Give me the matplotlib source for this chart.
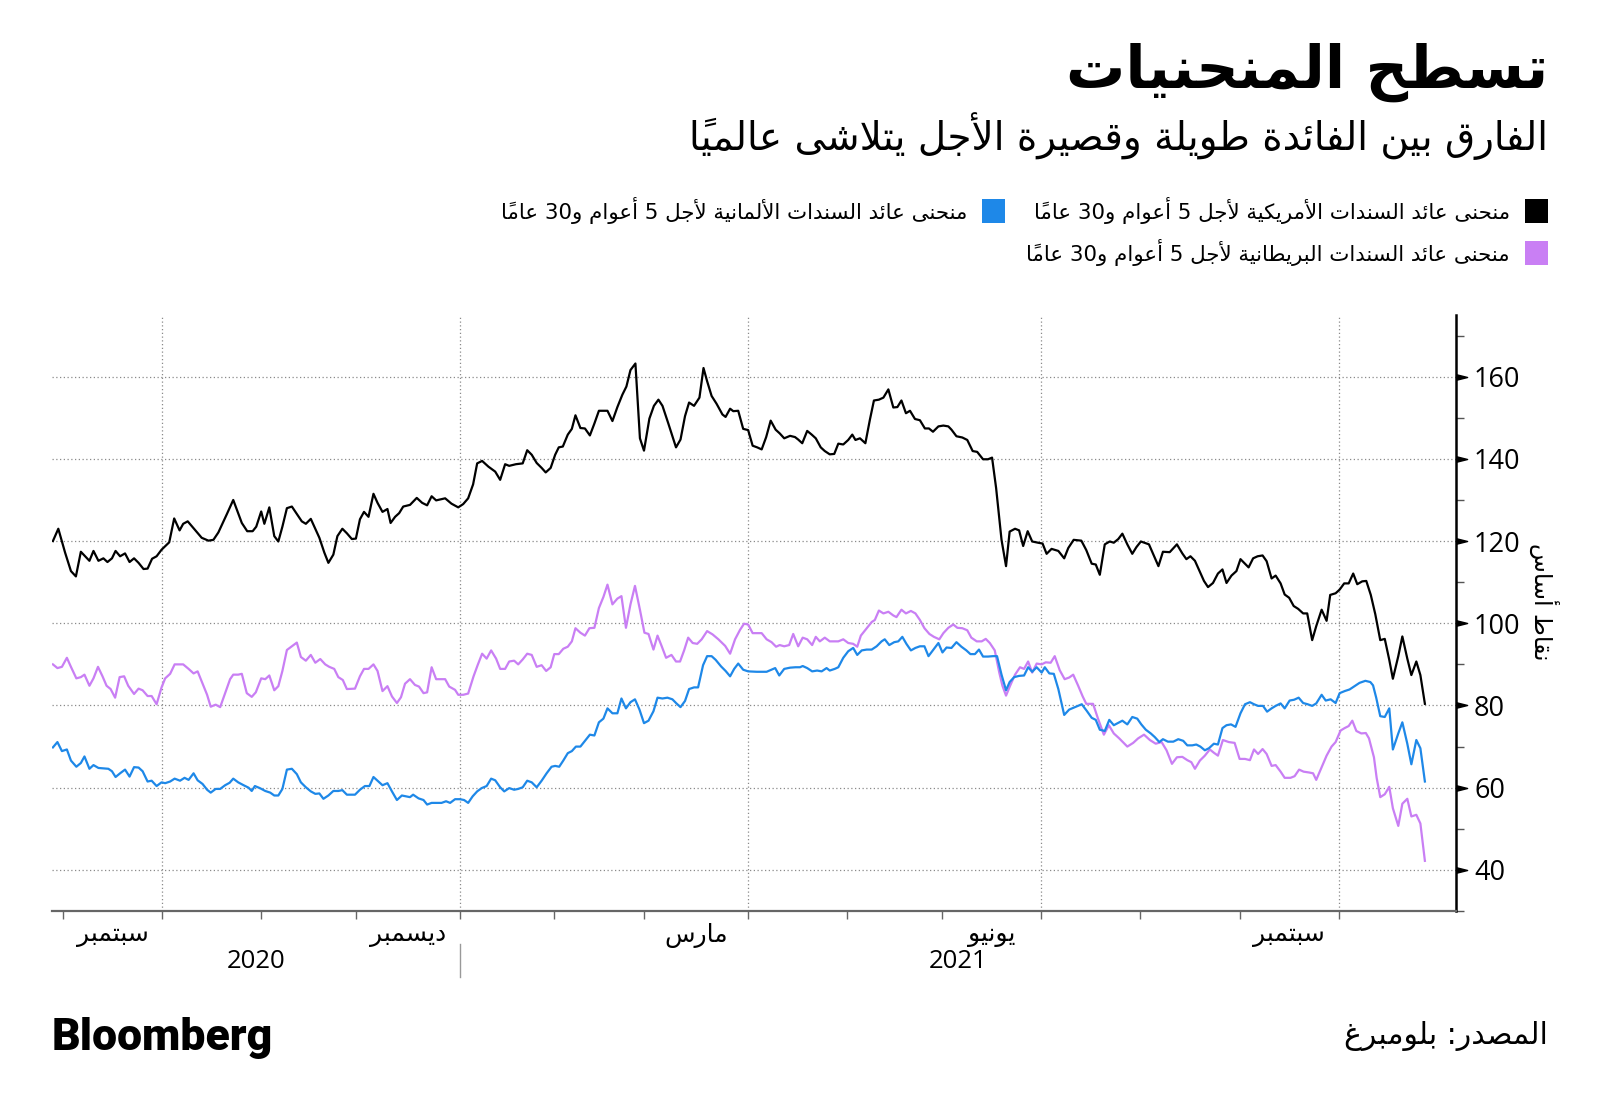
import unicodedata
import numpy as np
import matplotlib
matplotlib.use("Agg")
import matplotlib.pyplot as plt
from matplotlib.patches import Rectangle
from matplotlib.transforms import blended_transform_factory

# ---------------- data (x = trading-day index, 0 = 2020-09-01) ----------------
BASE_DATE = "2020-09-01"

us_x = [-2.2, -1.0, 0.5, 1.8, 2.9, 4.0, 5.9, 6.8, 7.9, 9.0, 9.9, 10.9, 11.7, 12.7, 13.8, 14.8, 15.8, 16.8, 17.9, 18.8,
        19.8, 20.8, 21.9, 23.6, 24.7, 25.9, 26.7, 27.7, 29.1, 30.8, 32.3, 33.4, 34.5, 36.4, 37.8, 39.7, 40.9, 42.1, 42.9,
        44.0, 44.7, 45.8, 46.9, 47.8, 48.7, 49.7, 50.8, 53.0, 53.9, 55.0, 56.0, 56.9, 58.0, 58.9, 60.0, 60.9, 62.0, 63.0,
        64.1, 65.0, 65.9, 66.8, 67.8, 68.9, 69.8, 70.9, 72.0, 72.7, 73.7, 74.6, 75.5, 77.0, 78.5, 79.7, 80.8, 81.8, 82.8,
        84.8, 86.2, 87.7, 88.8, 89.9, 91.0, 91.9, 93.0, 94.4, 95.9, 97.0, 98.1, 99.0, 100.5, 102.0, 103.0, 104.0, 105.1,
        106.2, 107.1, 108.2, 109.2, 110.0, 110.9, 112.0, 112.9, 113.7, 114.8, 115.8, 116.9, 117.9, 118.9, 120.8, 121.9,
        123.0, 124.1, 125.0, 125.9, 127.0, 128.0, 128.9, 130.1, 131.1, 132.1, 133.0, 134.3, 136.0, 137.0, 138.0, 138.9,
        140.0, 141.2, 142.1, 142.9, 143.9, 145.0, 146.3, 147.0, 148.0, 148.7, 149.8, 150.9, 152.0, 153.0, 154.0, 155.0,
        156.0, 157.0, 158.1, 159.0, 160.0, 161.3, 162.4, 163.1, 164.0, 165.1, 166.1, 167.0, 168.1, 169.0, 170.1, 171.1,
        172.0, 173.1, 174.2, 175.1, 175.8, 176.8, 178.0, 179.0, 179.9, 181.0, 182.0, 183.1, 184.2, 185.1, 186.0, 187.0,
        187.9, 189.0, 190.1, 191.2, 192.1, 193.0, 194.2, 195.3, 196.4, 197.1, 198.2, 199.5, 200.6, 201.8, 202.8, 204.1,
        205.2, 206.1, 207.0, 208.2, 209.2, 210.0, 211.2, 212.1, 213.0, 214.0, 215.0, 216.3, 217.3, 218.2, 219.3, 220.8,
        222.1, 223.0, 224.2, 225.9, 227.0, 228.2, 229.1, 230.0, 231.1, 232.2, 233.1, 234.1, 235.0, 236.1, 237.2, 238.1,
        239.1, 240.9, 241.8, 243.0, 244.0, 245.5, 247.1, 248.3, 249.2, 250.1, 251.1, 252.0, 253.1, 254.0, 255.1, 256.2,
        257.2, 258.1, 259.2, 260.3, 261.2, 262.2, 263.0, 264.0, 265.0, 266.1, 267.0, 268.1, 269.0, 270.1, 271.0, 272.0,
        273.0, 274.0, 275.1, 276.0, 277.1, 278.0, 279.2, 280.3, 281.1, 282.3, 283.2, 284.2, 285.2, 286.2, 287.1, 288.2,
        289.1, 290.1, 291.1, 292.2, 293.2, 294.2, 295.0, 296.2, 297.1, 298.2, 299.1, 300.2, 301.1, 302.1]
us_y = [120.0, 123.0, 117.2, 112.7, 111.4, 117.4, 115.2, 117.6, 115.2, 115.8, 114.9, 115.8, 117.6, 116.3, 117.0, 114.9,
        115.8, 114.7, 113.2, 113.3, 115.7, 116.3, 117.9, 119.7, 125.5, 122.6, 124.2, 124.8, 123.0, 120.8, 120.1, 120.3,
        122.1, 126.6, 130.0, 124.4, 122.4, 122.4, 123.5, 127.2, 124.2, 128.2, 121.2, 119.9, 123.5, 128.0, 128.4, 124.8,
        124.2, 125.4, 123.0, 120.8, 117.2, 114.7, 116.7, 121.2, 123.0, 121.9, 120.5, 120.6, 125.3, 127.1, 125.9, 131.5,
        129.3, 127.1, 127.8, 124.4, 125.9, 126.8, 128.4, 128.8, 130.5, 129.3, 128.7, 130.9, 129.9, 130.4, 129.1, 128.2,
        129.0, 130.4, 133.8, 138.9, 139.5, 138.1, 136.9, 134.9, 138.7, 138.3, 138.7, 138.9, 142.1, 141.0, 139.0, 137.8,
        136.7, 137.8, 141.0, 142.8, 143.0, 145.9, 147.3, 150.6, 147.5, 147.4, 145.7, 148.6, 151.7, 151.7, 149.2, 152.6,
        155.6, 157.6, 161.6, 163.2, 145.0, 142.0, 149.8, 152.9, 154.4, 152.9, 148.6, 142.8, 144.7, 150.4, 153.7, 152.9,
        154.9, 162.1, 158.9, 155.3, 153.4, 150.8, 150.2, 152.2, 151.6, 151.7, 147.3, 147.0, 143.2, 142.8, 142.3, 145.3,
        149.3, 147.1, 146.2, 145.0, 145.6, 145.3, 144.7, 143.8, 146.8, 145.9, 145.0, 142.8, 141.9, 141.1, 141.2, 143.7,
        143.5, 144.6, 145.9, 144.6, 145.0, 143.8, 149.5, 154.2, 154.4, 154.9, 156.9, 152.5, 152.6, 154.2, 151.1, 151.7,
        149.7, 149.4, 147.4, 147.4, 146.6, 147.9, 148.1, 147.9, 147.1, 145.5, 145.2, 144.6, 141.9, 141.7, 139.9, 139.9,
        140.3, 132.9, 120.3, 113.9, 122.3, 123.0, 122.6, 118.8, 122.4, 119.9, 119.6, 119.4, 116.9, 118.1, 117.6, 115.8,
        118.3, 120.3, 120.1, 117.8, 114.5, 114.3, 111.8, 119.2, 119.9, 119.6, 120.5, 121.8, 119.2, 116.9, 118.5, 119.9,
        119.2, 116.9, 113.9, 117.4, 117.3, 119.2, 117.0, 115.6, 116.3, 115.2, 113.0, 110.3, 108.8, 109.8, 112.1, 113.1,
        109.8, 111.6, 112.7, 115.6, 114.5, 113.6, 115.8, 116.3, 116.5, 115.1, 110.9, 111.6, 109.7, 107.0, 106.2, 104.2,
        103.5, 102.4, 102.4, 95.9, 99.3, 103.3, 100.6, 106.9, 107.3, 108.2, 109.7, 109.7, 112.1, 109.5, 110.2, 110.3,
        106.9, 102.2, 95.9, 96.2, 91.1, 86.5, 92.0, 96.8, 91.4, 87.4, 90.7, 87.4, 80.4]

de_x = [-2.2, -1.2, -0.2, 0.9, 1.8, 3.0, 4.0, 4.8, 5.9, 6.8, 7.9, 10.1, 10.9, 11.7, 12.7, 13.8, 14.8, 15.8, 16.8, 17.7,
        18.8, 19.7, 20.8, 21.9, 22.7, 23.8, 24.8, 26.0, 27.0, 27.9, 29.0, 29.9, 31.0, 32.0, 32.8, 33.9, 34.9, 36.0, 37.0,
        37.8, 38.9, 40.1, 41.2, 41.9, 42.6, 43.7, 44.9, 46.0, 46.9, 47.8, 48.7, 49.7, 50.8, 51.9, 52.8, 53.9, 55.0, 56.0,
        56.9, 57.8, 58.9, 60.0, 61.1, 62.0, 63.0, 64.8, 65.9, 67.0, 68.0, 68.9, 70.0, 70.9, 72.0, 73.0, 74.1, 75.2, 77.0,
        77.7, 78.9, 80.0, 80.8, 81.8, 82.9, 84.0, 85.0, 85.9, 87.0, 88.1, 89.0, 89.9, 90.9, 91.9, 92.9, 94.0, 95.0, 95.9,
        97.0, 97.9, 99.0, 100.1, 101.0, 102.0, 103.0, 104.0, 105.1, 106.2, 107.3, 108.4, 109.2, 110.1, 111.0, 112.0,
        112.9, 113.8, 114.8, 115.8, 116.9, 117.9, 118.9, 119.9, 120.8, 121.9, 123.0, 123.9, 124.9, 125.9, 126.9, 127.9,
        128.9, 129.9, 131.0, 131.9, 133.0, 134.1, 135.2, 136.1, 137.0, 138.0, 138.9, 140.0, 140.9, 142.0, 142.9, 143.9,
        144.8, 146.0, 147.0, 148.0, 148.9, 149.8, 150.9, 152.0, 153.9, 156.1, 158.0, 158.9, 160.0, 161.3, 162.5, 163.5,
        164.1, 165.1, 166.2, 167.3, 168.3, 169.4, 170.1, 171.2, 172.0, 173.1, 174.2, 175.3, 176.2, 177.2, 178.3, 179.4,
        180.5, 181.6, 182.3, 183.3, 184.4, 185.3, 186.2, 187.1, 188.1, 189.1, 190.1, 191.1, 192.0, 193.1, 194.2, 195.1,
        196.0, 197.1, 198.2, 199.3, 200.4, 201.3, 202.3, 203.2, 204.1, 205.2, 206.3, 207.2, 208.2, 209.2, 210.0, 211.0,
        212.1, 213.2, 214.1, 215.0, 216.0, 217.1, 217.8, 218.8, 219.8, 220.8, 222.1, 223.2, 224.5, 226.0, 227.1, 228.2,
        229.1, 230.0, 231.1, 232.1, 233.1, 234.3, 235.0, 236.1, 237.2, 238.3, 239.2, 240.2, 241.3, 242.2, 243.2, 244.0,
        245.1, 246.3, 247.4, 248.5, 249.4, 250.5, 251.4, 252.3, 253.3, 254.2, 255.3, 256.2, 257.2, 258.1, 259.1, 260.1,
        261.2, 262.2, 263.3, 264.2, 265.1, 266.2, 267.1, 268.1, 269.0, 270.1, 271.0, 272.1, 273.1, 274.1, 275.1, 276.1,
        277.1, 278.0, 279.2, 280.1, 281.2, 282.3, 283.2, 284.3, 285.4, 286.5, 287.6, 288.9, 290.0, 290.6, 291.3, 292.2,
        293.2, 294.2, 295.0, 296.2, 297.1, 298.2, 299.1, 300.2, 301.1, 302.1]
de_y = [69.8, 71.1, 68.9, 69.3, 66.6, 65.1, 66.0, 67.6, 64.6, 65.5, 64.8, 64.6, 64.0, 62.6, 63.5, 64.4, 62.7, 65.0, 64.9,
        64.0, 61.5, 61.7, 60.4, 61.3, 61.1, 61.5, 62.2, 61.7, 62.4, 61.9, 63.5, 61.8, 60.9, 59.5, 58.8, 59.7, 59.7, 60.6,
        61.2, 62.2, 61.3, 60.6, 60.0, 59.2, 60.4, 59.9, 59.2, 58.8, 58.1, 58.1, 59.7, 64.4, 64.6, 63.3, 61.3, 60.1, 59.1,
        58.5, 58.6, 57.3, 58.1, 59.2, 59.2, 59.4, 58.3, 58.3, 59.5, 60.4, 60.4, 62.6, 61.5, 60.6, 61.1, 59.1, 57.0, 58.1,
        57.7, 58.3, 57.4, 57.0, 55.9, 56.3, 56.3, 56.3, 56.7, 56.3, 57.2, 57.2, 57.0, 56.3, 57.9, 59.1, 59.9, 60.4, 62.2,
        61.8, 60.1, 59.1, 59.9, 59.5, 59.7, 60.1, 61.7, 61.3, 60.1, 61.7, 63.5, 65.1, 65.3, 65.1, 66.6, 68.4, 68.9, 70.0,
        70.0, 71.4, 72.9, 72.7, 75.9, 76.8, 79.3, 78.1, 78.1, 81.7, 79.3, 80.8, 81.5, 79.0, 75.7, 76.3, 78.6, 81.9, 81.7,
        81.9, 81.5, 80.5, 79.6, 81.1, 84.0, 84.4, 84.4, 89.8, 92.0, 92.0, 91.1, 89.5, 88.4, 87.1, 88.9, 90.2, 88.7, 88.3,
        88.2, 88.2, 89.1, 87.3, 88.9, 89.2, 89.3, 89.3, 89.6, 89.1, 88.3, 88.5, 88.3, 89.1, 88.5, 88.9, 89.3, 91.6, 93.2,
        94.0, 92.3, 93.4, 93.6, 93.6, 94.4, 95.6, 96.1, 94.7, 95.4, 95.6, 96.7, 95.0, 93.4, 94.0, 94.4, 94.4, 92.0, 93.6,
        95.2, 92.9, 94.1, 94.0, 95.4, 94.3, 93.4, 92.5, 92.5, 93.6, 91.9, 91.9, 92.0, 92.0, 87.5, 83.7, 85.7, 86.9, 87.2,
        87.3, 89.3, 88.2, 89.3, 88.0, 89.3, 87.8, 87.7, 84.0, 77.7, 79.0, 79.6, 80.3, 78.7, 77.0, 76.5, 74.1, 73.8, 76.5,
        75.2, 75.9, 76.3, 75.4, 77.2, 76.8, 75.4, 74.1, 73.2, 72.3, 71.1, 71.8, 71.2, 71.2, 71.8, 71.4, 70.3, 70.3, 70.5,
        70.0, 69.1, 69.6, 70.7, 70.5, 74.5, 75.2, 75.4, 74.8, 78.1, 80.3, 80.8, 80.3, 79.9, 79.9, 78.5, 79.3, 79.9, 80.5,
        79.3, 81.2, 81.4, 81.9, 80.6, 80.3, 79.9, 80.5, 82.6, 81.2, 81.5, 80.6, 83.0, 83.5, 83.9, 84.7, 85.5, 86.0, 85.7,
        84.9, 81.9, 77.4, 77.2, 79.3, 69.3, 73.2, 75.9, 70.7, 65.7, 71.6, 69.6, 61.5]

uk_x = [-2.2, -1.2, -0.2, 0.9, 1.8, 3.0, 4.0, 4.8, 5.9, 6.8, 7.8, 8.8, 9.7, 10.6, 11.6, 12.6, 13.6, 14.5, 15.8, 16.8, 17.7,
        18.8, 19.7, 20.8, 21.9, 22.7, 23.8, 24.8, 25.6, 26.7, 27.9, 29.0, 29.9, 31.0, 32.0, 32.8, 33.9, 34.9, 36.0, 37.1,
        37.8, 38.9, 39.7, 40.8, 41.9, 42.8, 44.0, 44.9, 45.8, 46.9, 47.8, 48.7, 49.7, 50.8, 51.9, 52.8, 53.9, 55.0, 56.0,
        57.1, 58.2, 59.1, 60.2, 61.1, 62.1, 63.0, 64.8, 65.9, 66.8, 67.8, 68.9, 69.8, 70.9, 72.0, 73.0, 74.1, 75.0, 75.9,
        77.0, 78.1, 79.0, 80.0, 80.8, 81.8, 82.8, 84.8, 85.7, 87.0, 87.7, 88.8, 89.9, 91.1, 92.0, 93.0, 94.0, 95.0, 96.1,
        97.0, 98.1, 99.0, 100.1, 101.0, 102.0, 103.0, 104.0, 105.1, 106.2, 107.2, 108.2, 109.0, 110.0, 111.0, 112.0,
        112.9, 113.7, 114.8, 115.8, 116.8, 117.9, 118.9, 119.9, 120.8, 121.9, 123.0, 123.9, 124.9, 125.9, 126.9, 128.0,
        129.0, 129.9, 131.0, 131.9, 132.8, 133.8, 135.0, 136.0, 136.9, 137.8, 138.7, 139.7, 140.7, 141.7, 142.9, 144.1,
        145.4, 146.9, 148.0, 149.1, 150.2, 151.1, 152.0, 153.0, 153.9, 155.0, 156.1, 157.2, 158.2, 159.0, 160.0, 161.1,
        162.0, 163.1, 164.1, 165.1, 166.2, 167.0, 167.9, 169.0, 170.1, 172.0, 173.1, 174.2, 175.3, 176.2, 177.0, 178.3,
        179.4, 180.1, 181.0, 182.0, 183.1, 184.2, 184.9, 186.0, 187.0, 188.1, 189.1, 190.1, 191.1, 192.2, 193.2, 194.4,
        195.3, 196.4, 197.5, 198.4, 199.5, 200.6, 201.5, 202.7, 203.8, 204.7, 205.6, 206.7, 207.7, 208.4, 209.2, 210.1,
        211.2, 212.3, 213.2, 214.1, 215.0, 216.0, 217.1, 218.0, 219.1, 220.0, 221.1, 222.2, 223.2, 224.1, 225.2, 226.2,
        227.0, 228.5, 229.6, 230.9, 232.0, 233.1, 234.3, 236.1, 237.4, 238.5, 239.8, 241.1, 242.4, 243.7, 244.8, 246.0,
        247.1, 248.3, 249.4, 250.3, 251.1, 252.2, 253.3, 254.4, 255.3, 256.2, 257.3, 258.6, 259.9, 261.0, 262.2, 263.3,
        264.2, 265.1, 266.1, 267.0, 268.1, 269.0, 270.1, 271.0, 272.3, 273.2, 274.2, 275.2, 276.4, 277.3, 278.0, 279.2,
        280.3, 281.4, 282.3, 283.4, 284.3, 285.2, 286.0, 286.9, 288.0, 289.0, 289.7, 290.8, 291.4, 292.2, 293.2, 294.2,
        295.0, 296.2, 297.1, 298.2, 299.1, 300.2, 301.1, 302.1]
uk_y = [90.0, 89.1, 89.4, 91.6, 89.4, 86.6, 86.9, 87.5, 84.8, 86.6, 89.4, 87.1, 84.8, 84.0, 81.9, 86.9, 87.1, 84.8, 82.8,
        84.1, 83.7, 82.3, 82.3, 80.3, 84.4, 86.6, 87.7, 90.0, 90.0, 90.0, 88.9, 87.8, 88.3, 85.3, 82.6, 79.7, 80.2, 79.6,
        83.0, 86.4, 87.5, 87.5, 87.7, 83.0, 82.1, 83.2, 86.6, 86.4, 87.3, 83.7, 84.7, 88.4, 93.5, 94.4, 95.3, 91.8, 90.9,
        92.3, 90.4, 91.3, 90.0, 89.4, 88.9, 86.9, 86.2, 84.0, 84.1, 87.1, 88.9, 88.9, 90.0, 88.4, 83.5, 84.7, 82.2, 80.6,
        82.0, 85.3, 86.4, 85.0, 84.6, 83.0, 83.2, 89.3, 86.4, 86.4, 84.6, 83.8, 82.6, 82.6, 82.9, 87.1, 89.8, 92.6, 91.4,
        93.4, 91.4, 88.9, 88.9, 90.7, 90.9, 90.0, 91.2, 92.6, 92.3, 89.4, 89.8, 88.4, 89.3, 92.5, 92.5, 93.8, 94.3, 95.6,
        98.8, 97.7, 97.0, 98.8, 98.9, 103.7, 106.4, 109.4, 104.6, 106.0, 106.6, 98.9, 104.6, 109.1, 103.3, 97.7, 97.4,
        93.6, 97.0, 94.5, 91.6, 92.3, 90.7, 90.7, 93.4, 96.5, 95.2, 95.0, 96.1, 98.1, 97.3, 96.1, 94.5, 92.6, 96.1, 98.4,
        99.9, 99.7, 97.6, 97.6, 97.6, 96.1, 95.4, 94.3, 94.7, 94.4, 94.7, 97.4, 94.4, 96.5, 96.1, 94.7, 96.7, 95.6, 96.5,
        95.6, 95.6, 96.1, 95.2, 95.0, 94.3, 97.0, 98.8, 100.3, 100.8, 103.1, 102.4, 102.8, 101.9, 101.5, 103.3, 102.4,
        103.0, 102.4, 100.8, 98.8, 97.4, 96.7, 96.1, 97.6, 98.9, 99.7, 98.9, 98.8, 98.3, 96.5, 95.6, 95.6, 96.2, 95.2,
        93.4, 88.0, 84.8, 82.4, 84.8, 87.5, 89.3, 88.9, 90.7, 88.0, 90.2, 90.0, 90.5, 90.4, 92.0, 88.6, 86.4, 86.8, 87.5,
        84.8, 82.2, 80.4, 80.4, 76.8, 72.9, 75.2, 73.2, 72.0, 70.0, 70.9, 72.0, 72.9, 71.6, 70.7, 71.1, 69.1, 65.8, 67.4,
        67.5, 66.7, 66.2, 64.6, 66.6, 67.8, 69.3, 68.5, 67.8, 71.6, 71.1, 70.9, 67.0, 67.0, 66.7, 69.3, 68.2, 69.4, 68.2,
        65.3, 65.5, 63.9, 62.4, 62.4, 62.8, 64.4, 63.9, 63.7, 63.5, 61.9, 65.0, 67.8, 70.0, 71.1, 73.9, 74.5, 75.0, 76.3,
        73.8, 73.2, 73.3, 72.0, 67.4, 62.4, 57.7, 58.4, 60.2, 55.0, 50.7, 56.1, 57.3, 53.0, 53.4, 51.3, 42.2]

y_ticks = [40, 60, 80, 100, 120, 140, 160]
month_labels = {"2020-09": "سبتمبر", "2020-12": "ديسمبر", "2021-03": "مارس", "2021-06": "يونيو", "2021-09": "سبتمبر"}
year_labels = ["2020", "2021"]
title = "تسطح المنحنيات"
subtitle = "الفارق بين الفائدة طويلة وقصيرة الأجل يتلاشى عالمياً"
legend_labels = ["منحنى عائد السندات الأمريكية لأجل 5 أعوام و30 عاماً",
                 "منحنى عائد السندات الألمانية لأجل 5 أعوام و30 عاماً",
                 "منحنى عائد السندات البريطانية لأجل 5 أعوام و30 عاماً"]
y_label = "نقاط أساس"
source = "المصدر: بلومبرغ"

C_US, C_DE, C_UK = "#000000", "#1e88e8", "#c97ff4"

# ---------------- minimal Arabic shaping (presentation forms + visual order) ----------------
_AR = {
    '\u0621': ('\ufe80', None, None, None), '\u0622': ('\ufe81', '\ufe82', None, None),
    '\u0623': ('\ufe83', '\ufe84', None, None), '\u0624': ('\ufe85', '\ufe86', None, None),
    '\u0625': ('\ufe87', '\ufe88', None, None), '\u0626': ('\ufe89', '\ufe8a', '\ufe8b', '\ufe8c'),
    '\u0627': ('\ufe8d', '\ufe8e', None, None), '\u0628': ('\ufe8f', '\ufe90', '\ufe91', '\ufe92'),
    '\u0629': ('\ufe93', '\ufe94', None, None), '\u062a': ('\ufe95', '\ufe96', '\ufe97', '\ufe98'),
    '\u062b': ('\ufe99', '\ufe9a', '\ufe9b', '\ufe9c'), '\u062c': ('\ufe9d', '\ufe9e', '\ufe9f', '\ufea0'),
    '\u062d': ('\ufea1', '\ufea2', '\ufea3', '\ufea4'), '\u062e': ('\ufea5', '\ufea6', '\ufea7', '\ufea8'),
    '\u062f': ('\ufea9', '\ufeaa', None, None), '\u0630': ('\ufeab', '\ufeac', None, None),
    '\u0631': ('\ufead', '\ufeae', None, None), '\u0632': ('\ufeaf', '\ufeb0', None, None),
    '\u0633': ('\ufeb1', '\ufeb2', '\ufeb3', '\ufeb4'), '\u0634': ('\ufeb5', '\ufeb6', '\ufeb7', '\ufeb8'),
    '\u0635': ('\ufeb9', '\ufeba', '\ufebb', '\ufebc'), '\u0636': ('\ufebd', '\ufebe', '\ufebf', '\ufec0'),
    '\u0637': ('\ufec1', '\ufec2', '\ufec3', '\ufec4'), '\u0638': ('\ufec5', '\ufec6', '\ufec7', '\ufec8'),
    '\u0639': ('\ufec9', '\ufeca', '\ufecb', '\ufecc'), '\u063a': ('\ufecd', '\ufece', '\ufecf', '\ufed0'),
    '\u0641': ('\ufed1', '\ufed2', '\ufed3', '\ufed4'), '\u0642': ('\ufed5', '\ufed6', '\ufed7', '\ufed8'),
    '\u0643': ('\ufed9', '\ufeda', '\ufedb', '\ufedc'), '\u0644': ('\ufedd', '\ufede', '\ufedf', '\ufee0'),
    '\u0645': ('\ufee1', '\ufee2', '\ufee3', '\ufee4'), '\u0646': ('\ufee5', '\ufee6', '\ufee7', '\ufee8'),
    '\u0647': ('\ufee9', '\ufeea', '\ufeeb', '\ufeec'), '\u0648': ('\ufeed', '\ufeee', None, None),
    '\u0649': ('\ufeef', '\ufef0', None, None), '\u064a': ('\ufef1', '\ufef2', '\ufef3', '\ufef4'),
}
_LA = {'\u0622': ('\ufef5', '\ufef6'), '\u0623': ('\ufef7', '\ufef8'),
       '\u0625': ('\ufef9', '\ufefa'), '\u0627': ('\ufefb', '\ufefc')}


def ar(text):
    cl = []
    for ch in text:
        if unicodedata.combining(ch) and cl:
            cl[-1][1] += ch
        else:
            cl.append([ch, ''])
    units = []
    i = 0
    while i < len(cl):
        c, m = cl[i]
        if c == '\u0644' and i + 1 < len(cl) and cl[i + 1][0] in _LA:
            units.append(['LA', cl[i + 1][0], m + cl[i + 1][1]])
            i += 2
        elif c in _AR:
            units.append(['L', c, m]); i += 1
        else:
            units.append(['O', c, m]); i += 1
    shaped = []
    for j, (k, c, m) in enumerate(units):
        if k == 'O':
            ltr = c.isdigit() or (c.isascii() and c.isalpha())
            shaped.append((c + m, ltr))
            continue
        prev = units[j - 1] if j > 0 else None
        nxt = units[j + 1] if j + 1 < len(units) else None
        jp = (prev is not None and prev[0] == 'L' and _AR[prev[1]][2] is not None and c != '\u0621')
        if k == 'LA':
            g = _LA[c][1 if jp else 0]
        else:
            f = _AR[c]
            jn = (f[2] is not None and nxt is not None and nxt[0] in ('L', 'LA') and nxt[1] != '\u0621')
            if jp and jn:
                g = f[3]
            elif jp:
                g = f[1]
            elif jn:
                g = f[2]
            else:
                g = f[0]
        shaped.append((g + m, False))
    runs = []
    for g, ltr in shaped:
        if ltr and runs and runs[-1][0]:
            runs[-1][1].append(g)
        else:
            runs.append([ltr, [g]])
    out = []
    for ltr, gs in reversed(runs):
        out.extend(gs if ltr else reversed(gs))
    return ''.join(out)


# ---------------- figure ----------------
W, H = 1600, 1116
fig = plt.figure(figsize=(W / 100, H / 100), dpi=100)
fig.patch.set_facecolor("white")


def fx(px):
    return px / W


def fy(py):
    return 1 - py / H


AR_FONT = ["DejaVu Sans"]

ax = fig.add_axes([fx(52), fy(911), fx(1456) - fx(52), fy(315) - fy(911)])
ax.set_facecolor("white")

ax.plot(uk_x, uk_y, color=C_UK, lw=1.6, zorder=3)
ax.plot(de_x, de_y, color=C_DE, lw=1.6, zorder=4)
ax.plot(us_x, us_y, color=C_US, lw=1.6, zorder=5)

ax.set_xlim(-2.4, 309)
ax.set_ylim(30, 175)

# month starts as trading-day index
months = np.arange(np.datetime64("2020-09"), np.datetime64("2021-12"))
month_pos = np.busday_count(np.datetime64(BASE_DATE), months.astype("datetime64[D]"))
ax.set_xticks(month_pos[:-1])
ax.set_xticklabels([])
ax.tick_params(axis="x", direction="out", length=6, width=1, color="#666666")

for m0, pos in zip(months[:-1], month_pos[:-1]):
    if m0.astype(object).month in (10, 1, 4, 7):
        ax.axvline(pos, color="#8a8a8a", lw=0.9, ls=(0, (1, 2)), zorder=1)

ax.yaxis.tick_right()
ax.set_yticks(y_ticks)
ax.set_yticks(np.arange(30, 176, 20), minor=True)
ax.tick_params(axis="y", which="major", direction="out", length=11, width=0, color="#000000",
               labelsize=19.5, pad=2)
ax.tick_params(axis="y", which="minor", direction="out", length=6, width=1, color="#555555")
for lab in ax.get_yticklabels():
    lab.set_fontfamily("Open Sans")
ax.grid(axis="y", which="major", color="#8a8a8a", lw=0.9, ls=(0, (1, 2)), zorder=1)
# triangular major tick marks
tri = blended_transform_factory(ax.transAxes, ax.transData)
ax.plot([1.0] * len(y_ticks), y_ticks, linestyle="none", marker=[(0, -1), (4, 0), (0, 1)],
        markersize=16, color="#000000", transform=tri, clip_on=False, zorder=6)

for s in ("left", "top"):
    ax.spines[s].set_visible(False)
ax.spines["right"].set_color("#000000")
ax.spines["right"].set_linewidth(1.8)
ax.spines["bottom"].set_color("#666666")
ax.spines["bottom"].set_linewidth(1.6)

bt = blended_transform_factory(ax.transData, fig.transFigure)
for i, m0 in enumerate(months[:-1]):
    key = str(m0)
    if key in month_labels:
        mid = (month_pos[i] + month_pos[i + 1]) / 2
        ax.text(mid, fy(935), ar(month_labels[key]), transform=bt, ha="center", va="center",
                fontsize=18, family=AR_FONT, color="#000000")

jan_pos = month_pos[list(map(str, months)).index("2021-01")]
ax.text((ax.get_xlim()[0] + jan_pos) / 2, fy(962), year_labels[0], transform=bt, ha="center", va="center",
        fontsize=18.5, family="Open Sans", color="#000000")
ax.text((jan_pos + ax.get_xlim()[1]) / 2, fy(962), year_labels[1], transform=bt, ha="center", va="center",
        fontsize=18.5, family="Open Sans", color="#000000")
ax.plot([jan_pos, jan_pos], [fy(944), fy(977)], transform=bt, color="#999999", lw=1, clip_on=False)

# y label
fig.text(fx(1544), fy(602), ar(y_label), rotation=270, ha="center", va="center",
         fontsize=17, family=AR_FONT, color="#000000")

# titles
fig.text(fx(1548), fy(72), ar(title), ha="right", va="center", fontsize=42.5, fontweight="bold",
         family=AR_FONT, color="#000000")
fig.text(fx(1548), fy(136), ar(subtitle), ha="right", va="center", fontsize=28,
         family=AR_FONT, color="#000000")

# legend
leg = [(legend_labels[0], C_US, 1548, 1510, 211),
       (legend_labels[1], C_DE, 1005, 967, 211),
       (legend_labels[2], C_UK, 1548, 1510, 253)]
for txt, col, sq_r, tx_r, yc in leg:
    fig.patches.append(Rectangle((fx(sq_r - 23), fy(yc + 12)), fx(23), 24 / H, transform=fig.transFigure,
                                 facecolor=col, edgecolor="none"))
    fig.text(fx(tx_r), fy(yc), ar(txt), ha="right", va="center", fontsize=15.4, family=AR_FONT,
             color="#000000")

# footer
fig.text(fx(52), fy(1038), "Bloomberg", ha="left", va="center", fontsize=32, fontweight=900,
         family="Roboto", color="#000000")
fig.text(fx(1548), fy(1036), ar(source), ha="right", va="center", fontsize=21.5, family=AR_FONT,
         color="#000000")

fig.savefig("out.png", dpi=100, facecolor="white")
